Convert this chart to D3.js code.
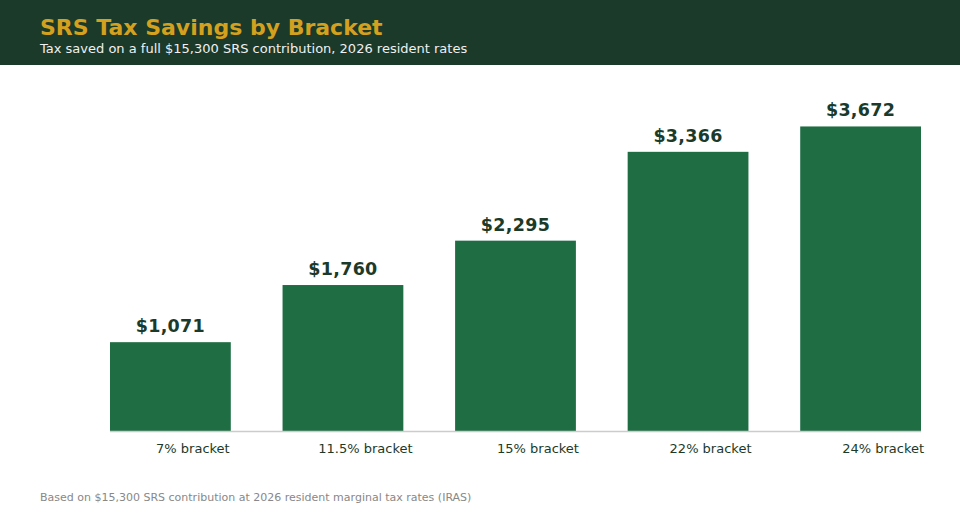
<!DOCTYPE html>
<html><head><meta charset="utf-8">
<script src="https://cdn.jsdelivr.net/npm/d3@7"></script>
<style>body{margin:0;background:#fff;font-family:"DejaVu Sans",sans-serif;}svg{display:block}</style>
</head><body>
<svg id="chart" width="960" height="520"></svg>
<script>
const categories = ["7% bracket","11.5% bracket","15% bracket","22% bracket","24% bracket"];
const savings = [1071, 1760, 2295, 3366, 3672];
const title = "SRS Tax Savings by Bracket";
const subtitle = "Tax saved on a full $15,300 SRS contribution, 2026 resident rates";
const footnote = "Based on $15,300 SRS contribution at 2026 resident marginal tax rates (IRAS)";

const svg = d3.select("#chart");
svg.append("rect").attr("x",0).attr("y",0).attr("width",960).attr("height",65).attr("fill","#1b3a2a");
svg.append("text").attr("x",40).attr("y",35).attr("fill","#d4a11e").attr("font-size",22).attr("font-weight","bold").text(title);
svg.append("text").attr("x",40).attr("y",53).attr("fill","#f0f0f0").attr("font-size",13).text(subtitle);

const x = d3.scaleBand().domain(categories).range([110,921]).paddingInner(0.3).paddingOuter(0);
const y = d3.scaleLinear().domain([0, d3.max(savings)*1.1]).range([431,96]);

const data = categories.map((c,i)=>({c, v:savings[i]}));
svg.selectAll("rect.bar").data(data).enter().append("rect").attr("class","bar")
  .attr("x",d=>x(d.c)).attr("y",d=>y(d.v)).attr("width",x.bandwidth()).attr("height",d=>y(0)-y(d.v)).attr("fill","#1f6e43");

svg.selectAll("text.val").data(data).enter().append("text").attr("class","val")
  .attr("x",d=>x(d.c)+x.bandwidth()/2).attr("y",d=>y(d.v)-10).attr("text-anchor","middle")
  .attr("font-size",17.5).attr("font-weight","bold").attr("fill","#1b3a2a").attr("letter-spacing",0.3)
  .text(d=>"$"+d3.format(",")(d.v));

svg.append("line").attr("x1",110).attr("x2",921).attr("y1",431.5).attr("y2",431.5).attr("stroke","#cccccc").attr("stroke-width",1.5);

svg.selectAll("text.cat").data(data).enter().append("text").attr("class","cat")
  .attr("x",d=>x(d.c)+x.bandwidth()/2+22.5).attr("y",453).attr("text-anchor","middle")
  .attr("font-size",13).attr("fill","#1b3a2a").text(d=>d.c);

svg.append("text").attr("x",40).attr("y",501).attr("fill","#888888").attr("font-size",11).text(footnote);
</script>
</body></html>
